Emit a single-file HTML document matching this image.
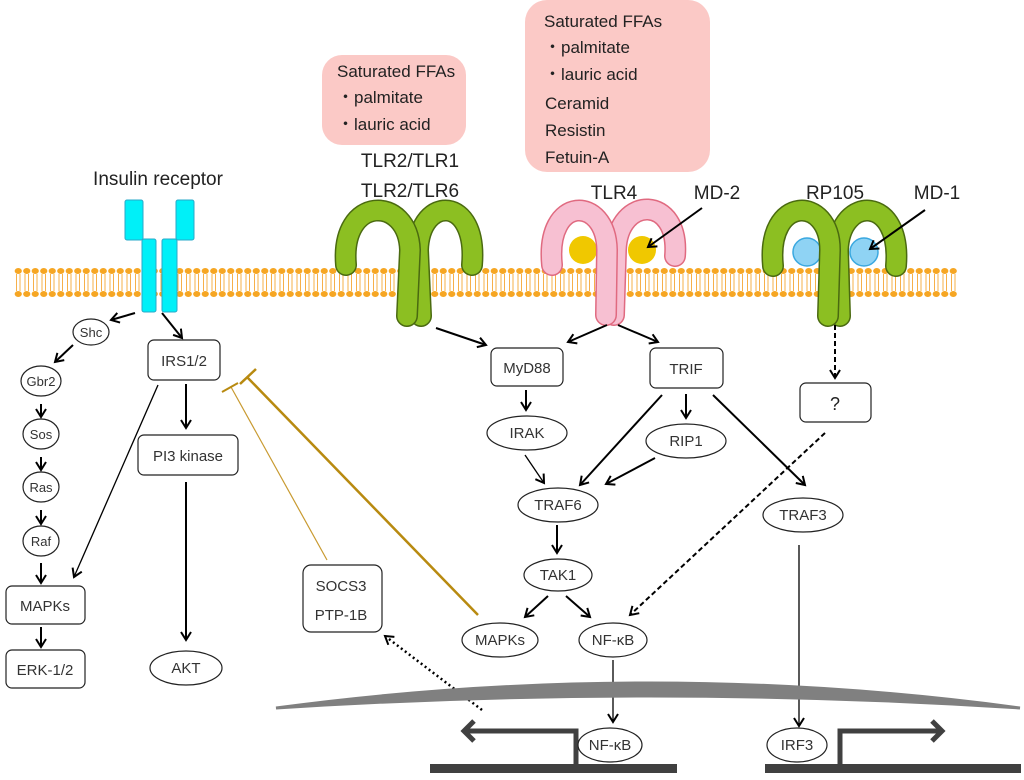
<!DOCTYPE html>
<html><head><meta charset="utf-8"><style>
body{margin:0;background:#fff}
svg{display:block}
text{font-family:"Liberation Sans",sans-serif;fill:#222}
.n{font-size:15px;fill:#333}
.s{font-size:13px;fill:#333}
.b{fill:#fff;stroke:#222;stroke-width:1.2}
.a{stroke:#000;stroke-width:2;fill:none;marker-end:url(#ah)}
.a1{stroke:#000;stroke-width:1.3;fill:none;marker-end:url(#ah)}
</style></head><body>
<svg width="1024" height="780" viewBox="0 0 1024 780" xmlns="http://www.w3.org/2000/svg">
<defs>
<marker id="ah" markerWidth="12" markerHeight="12" refX="9" refY="6" orient="auto" markerUnits="userSpaceOnUse">
<path d="M1,1 L9,6 L1,11" fill="none" stroke="#000" stroke-width="2"/></marker>
<marker id="ah2" markerWidth="24" markerHeight="24" refX="12" refY="12" orient="auto" markerUnits="userSpaceOnUse">
<path d="M2,2 L12,12 L2,22" fill="none" stroke="#404040" stroke-width="5"/></marker>
<pattern id="lip" x="14" y="268" width="8.5" height="29" patternUnits="userSpaceOnUse">
<ellipse cx="4.25" cy="3" rx="3.6" ry="3" fill="#f6a623"/>
<ellipse cx="4.25" cy="26" rx="3.6" ry="3" fill="#f6a623"/>
<path d="M2.5,6 V23 M6,6 V23" stroke="#f6b04a" stroke-width="1"/>
</pattern>
</defs>

<rect x="322" y="55" width="144" height="90" rx="20" fill="#fbc9c6"/>
<rect x="525" y="0" width="185" height="172" rx="22" fill="#fbc9c6"/>
<g style="font-size:17px">
<text x="337" y="77">Saturated FFAs</text>
<text x="337" y="103">・palmitate</text>
<text x="337" y="130">・lauric acid</text>
<text x="544" y="27">Saturated FFAs</text>
<text x="544" y="53">・palmitate</text>
<text x="544" y="80">・lauric acid</text>
<text x="545" y="109">Ceramid</text>
<text x="545" y="136">Resistin</text>
<text x="545" y="163">Fetuin-A</text>
</g>
<g style="font-size:19px" text-anchor="middle">
<text x="158" y="185">Insulin receptor</text>
<text x="410" y="167">TLR2/TLR1</text>
<text x="410" y="197">TLR2/TLR6</text>
<text x="614" y="199">TLR4</text>
<text x="717" y="199">MD-2</text>
<text x="835" y="199">RP105</text>
<text x="937" y="199">MD-1</text>
</g>

<rect x="14" y="268" width="943" height="29" fill="url(#lip)"/>

<g fill="#00f0f8" stroke="#2aa8c8" stroke-width="1">
<rect x="125" y="200" width="18" height="40" rx="2"/>
<rect x="176" y="200" width="18" height="40" rx="2"/>
<rect x="142" y="239" width="14" height="73" rx="2"/>
<rect x="162" y="239" width="15" height="73" rx="2"/>
</g>

<g fill="none" stroke-linecap="round">
<path d="M472,265 C478,195 420,195 418,250 L421,316" stroke="#4a6a10" stroke-width="22"/>
<path d="M472,265 C478,195 420,195 418,250 L421,316" stroke="#8cbf22" stroke-width="19"/>
<path d="M346,265 C340,195 408,195 410,250 L407,316" stroke="#4a6a10" stroke-width="22"/>
<path d="M346,265 C340,195 408,195 410,250 L407,316" stroke="#8cbf22" stroke-width="19"/>
</g>
<circle cx="583" cy="250" r="14" fill="#f0c800"/>
<circle cx="642" cy="250" r="14" fill="#f0c800"/>
<g fill="none" stroke-linecap="round">
<path d="M675,256 C680,195 618,195 616,250 L614,315" stroke="#e06a80" stroke-width="22"/>
<path d="M675,256 C680,195 618,195 616,250 L614,315" stroke="#f7c0d2" stroke-width="19"/>
<path d="M552,265 C545,195 606,195 607,250 L606,315" stroke="#e06a80" stroke-width="22"/>
<path d="M552,265 C545,195 606,195 607,250 L606,315" stroke="#f7c0d2" stroke-width="19"/>
</g>
<circle cx="807" cy="252" r="14" fill="#8fd3f4" stroke="#3aa8e0" stroke-width="1.5"/>
<circle cx="864" cy="252" r="14" fill="#8fd3f4" stroke="#3aa8e0" stroke-width="1.5"/>
<g fill="none" stroke-linecap="round">
<path d="M896,266 C902,195 840,195 838,250 L840,316" stroke="#4a6a10" stroke-width="22"/>
<path d="M896,266 C902,195 840,195 838,250 L840,316" stroke="#8cbf22" stroke-width="19"/>
<path d="M773,266 C766,195 830,195 830,250 L828,316" stroke="#4a6a10" stroke-width="22"/>
<path d="M773,266 C766,195 830,195 830,250 L828,316" stroke="#8cbf22" stroke-width="19"/>
</g>
<line x1="702" y1="208" x2="648" y2="247" class="a"/>
<line x1="925" y1="210" x2="870" y2="249" class="a"/>

<ellipse cx="91" cy="332" rx="18" ry="13" class="b"/><text x="91" y="337" class="s" text-anchor="middle">Shc</text>
<ellipse cx="41" cy="381" rx="20" ry="15" class="b"/><text x="41" y="386" class="s" text-anchor="middle">Gbr2</text>
<ellipse cx="41" cy="434" rx="18" ry="15" class="b"/><text x="41" y="439" class="s" text-anchor="middle">Sos</text>
<ellipse cx="41" cy="487" rx="18" ry="15" class="b"/><text x="41" y="492" class="s" text-anchor="middle">Ras</text>
<ellipse cx="41" cy="541" rx="18" ry="15" class="b"/><text x="41" y="546" class="s" text-anchor="middle">Raf</text>
<rect x="6" y="586" width="79" height="38" rx="6" class="b"/><text x="45" y="611" class="n" text-anchor="middle">MAPKs</text>
<rect x="6" y="650" width="79" height="38" rx="6" class="b"/><text x="45" y="675" class="n" text-anchor="middle">ERK-1/2</text>
<rect x="148" y="340" width="72" height="40" rx="6" class="b"/><text x="184" y="366" class="n" text-anchor="middle">IRS1/2</text>
<rect x="138" y="435" width="100" height="40" rx="6" class="b"/><text x="188" y="461" class="n" text-anchor="middle">PI3 kinase</text>
<ellipse cx="186" cy="668" rx="36" ry="17" class="b"/><text x="186" y="673" class="n" text-anchor="middle">AKT</text>

<line x1="135" y1="313" x2="111" y2="320" class="a"/>
<line x1="162" y1="313" x2="182" y2="338" class="a"/>
<line x1="73" y1="345" x2="55" y2="362" class="a"/>
<line x1="41" y1="404" x2="41" y2="417" class="a"/>
<line x1="41" y1="457" x2="41" y2="470" class="a"/>
<line x1="41" y1="510" x2="41" y2="524" class="a"/>
<line x1="41" y1="563" x2="41" y2="583" class="a"/>
<line x1="41" y1="627" x2="41" y2="647" class="a"/>
<line x1="158" y1="385" x2="74" y2="577" class="a1"/>
<line x1="186" y1="384" x2="186" y2="428" class="a"/>
<line x1="186" y1="482" x2="186" y2="640" class="a"/>

<line x1="478" y1="615" x2="247" y2="377" stroke="#b88a10" stroke-width="2.5"/>
<line x1="240" y1="384" x2="256" y2="369" stroke="#b88a10" stroke-width="2.5"/>
<line x1="327" y1="560" x2="231" y2="387" stroke="#c89a30" stroke-width="1.2"/>
<line x1="222" y1="392" x2="238" y2="383" stroke="#b88a10" stroke-width="2"/>

<rect x="303" y="565" width="79" height="67" rx="8" class="b"/>
<text x="341" y="591" class="n" text-anchor="middle">SOCS3</text>
<text x="341" y="620" class="n" text-anchor="middle">PTP-1B</text>
<line x1="482" y1="710" x2="385" y2="636" stroke="#000" stroke-width="2.5" stroke-dasharray="2,3" marker-end="url(#ah)"/>

<rect x="491" y="348" width="72" height="38" rx="6" class="b"/><text x="527" y="373" class="n" text-anchor="middle">MyD88</text>
<rect x="650" y="348" width="73" height="40" rx="6" class="b"/><text x="686" y="374" class="n" text-anchor="middle">TRIF</text>
<rect x="800" y="383" width="71" height="39" rx="6" class="b"/><text x="835" y="410" style="font-size:18px" text-anchor="middle">?</text>
<ellipse cx="527" cy="433" rx="40" ry="17" class="b"/><text x="527" y="438" class="n" text-anchor="middle">IRAK</text>
<ellipse cx="686" cy="441" rx="40" ry="17" class="b"/><text x="686" y="446" class="n" text-anchor="middle">RIP1</text>
<ellipse cx="558" cy="505" rx="40" ry="17" class="b"/><text x="558" y="510" class="n" text-anchor="middle">TRAF6</text>
<ellipse cx="803" cy="515" rx="40" ry="17" class="b"/><text x="803" y="520" class="n" text-anchor="middle">TRAF3</text>
<ellipse cx="558" cy="575" rx="34" ry="16" class="b"/><text x="558" y="580" class="n" text-anchor="middle">TAK1</text>
<ellipse cx="500" cy="640" rx="38" ry="17" class="b"/><text x="500" y="645" class="n" text-anchor="middle">MAPKs</text>
<ellipse cx="613" cy="640" rx="34" ry="17" class="b"/><text x="613" y="645" class="n" text-anchor="middle">NF-κB</text>

<line x1="436" y1="328" x2="486" y2="345" class="a"/>
<line x1="607" y1="325" x2="568" y2="342" class="a"/>
<line x1="618" y1="325" x2="658" y2="342" class="a"/>
<line x1="835" y1="325" x2="835" y2="378" class="a" stroke-dasharray="5,3"/>
<line x1="526" y1="390" x2="526" y2="410" class="a"/>
<line x1="686" y1="394" x2="686" y2="418" class="a"/>
<line x1="662" y1="395" x2="580" y2="485" class="a"/>
<line x1="655" y1="458" x2="606" y2="484" class="a"/>
<line x1="525" y1="455" x2="544" y2="483" class="a1"/>
<line x1="713" y1="395" x2="805" y2="485" class="a"/>
<line x1="825" y1="433" x2="630" y2="615" class="a" stroke-dasharray="5,3"/>
<line x1="557" y1="525" x2="557" y2="553" class="a"/>
<line x1="548" y1="596" x2="525" y2="617" class="a"/>
<line x1="566" y1="596" x2="590" y2="617" class="a"/>
<line x1="613" y1="660" x2="613" y2="722" class="a1"/>
<line x1="799" y1="545" x2="799" y2="726" class="a1"/>

<path d="M276,708 Q650,658 1020,708 Q650,684 276,708 Z" fill="#808080" stroke="#808080" stroke-width="3"/>
<rect x="430" y="764" width="247" height="9" fill="#404040"/>
<rect x="765" y="764" width="256" height="9" fill="#404040"/>
<path d="M576,766 V731 H464" fill="none" stroke="#404040" stroke-width="5" marker-end="url(#ah2)"/>
<path d="M840,766 V731 H942" fill="none" stroke="#404040" stroke-width="5" marker-end="url(#ah2)"/>
<ellipse cx="610" cy="745" rx="32" ry="17" class="b"/><text x="610" y="750" class="n" text-anchor="middle">NF-κB</text>
<ellipse cx="797" cy="745" rx="30" ry="17" class="b"/><text x="797" y="750" class="n" text-anchor="middle">IRF3</text>
</svg>
</body></html>
